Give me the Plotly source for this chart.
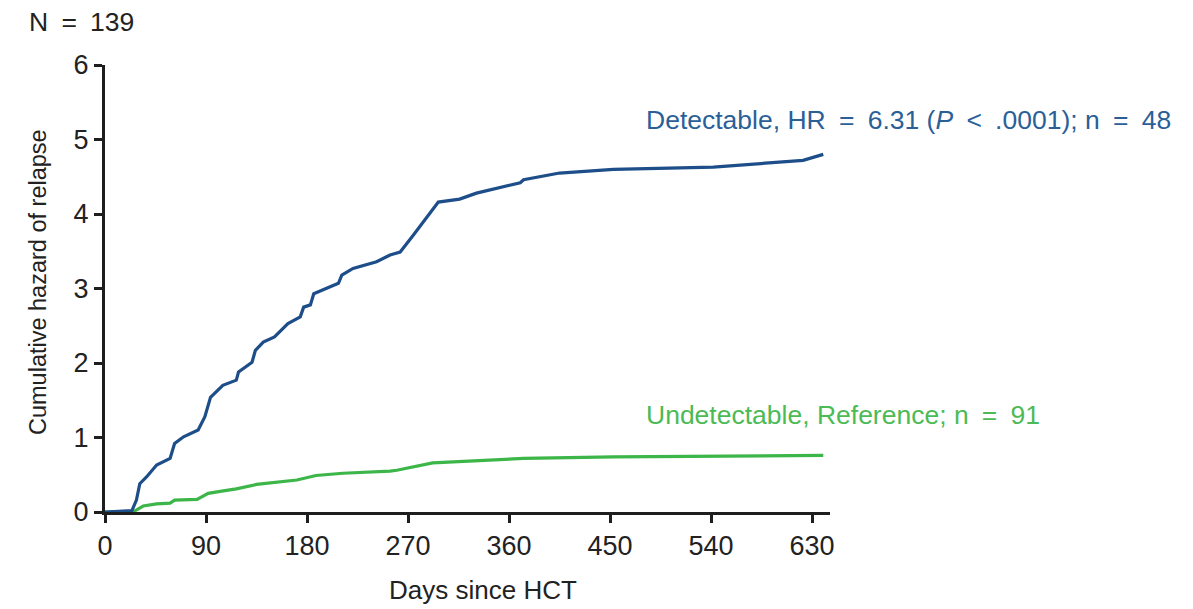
import plotly.graph_objects as go

# Detectable group (cumulative hazard)
det_days = [0, 24, 28, 31, 37, 46, 58, 62, 70, 83, 89, 94, 105, 117, 119, 131, 134, 141, 151,
            163, 174, 177, 183, 186, 208, 211, 221, 242, 254, 263, 275, 284, 297, 316, 331,
            370, 373, 405, 453, 542, 587, 622, 640]
det_haz = [0.0, 0.02, 0.16, 0.38, 0.47, 0.63, 0.72, 0.92, 1.01, 1.10, 1.28, 1.54, 1.70, 1.77, 1.88,
           2.01, 2.17, 2.28, 2.35, 2.53, 2.62, 2.75, 2.78, 2.93, 3.07, 3.18, 3.27, 3.36, 3.45,
           3.49, 3.72, 3.90, 4.16, 4.20, 4.28, 4.42, 4.46, 4.55, 4.60, 4.63, 4.68, 4.72, 4.80]

# Undetectable group (reference)
und_days = [0, 26, 34, 46, 58, 62, 82, 92, 104, 117, 135, 171, 188, 212, 254, 260, 292, 322,
            373, 453, 640]
und_haz = [0.0, 0.01, 0.08, 0.11, 0.12, 0.16, 0.17, 0.25, 0.28, 0.31, 0.37, 0.43, 0.49, 0.52,
           0.55, 0.56, 0.66, 0.68, 0.72, 0.74, 0.76]

x_ticks = [0, 90, 180, 270, 360, 450, 540, 630]
y_ticks = [0, 1, 2, 3, 4, 5, 6]

BLUE = "#1d4e89"
GREEN = "#3cb648"
BLUE_TXT = "#2a5f98"
GREEN_TXT = "#4cba55"
AXIS = "#1e1e1e"
EQ = "\u2002=\u2002"
LT = "\u2002<\u2002"

fig = go.Figure()
fig.add_trace(go.Scatter(x=und_days, y=und_haz, mode="lines",
                         line=dict(color=GREEN, width=3.2), showlegend=False))
fig.add_trace(go.Scatter(x=det_days, y=det_haz, mode="lines",
                         line=dict(color=BLUE, width=3.2), showlegend=False))

FONT = "Liberation Sans, Arial, Helvetica, sans-serif"
tickfont = dict(family=FONT, size=27, color="#222222")

fig.update_layout(
    width=1193, height=609,
    margin=dict(l=105, r=363, t=65, b=97),
    plot_bgcolor="white", paper_bgcolor="white",
    xaxis=dict(range=[0, 646], tickvals=x_ticks, ticktext=[str(v) for v in x_ticks],
               showgrid=False, zeroline=False, showline=True, linecolor=AXIS, linewidth=3,
               ticks="outside", ticklen=8, tickwidth=2.5, tickcolor=AXIS, tickfont=tickfont),
    yaxis=dict(range=[0, 6], tickvals=y_ticks, showgrid=False, zeroline=False,
               showline=True, linecolor=AXIS, linewidth=3,
               ticks="outside", ticklen=8, tickwidth=2.5, tickcolor=AXIS, tickfont=tickfont),
    annotations=[
        dict(text="Days since HCT", xref="paper", yref="paper", x=0.5214, y=-0.1745,
             xanchor="center", yanchor="middle", showarrow=False,
             font=dict(family=FONT, size=26, color="#222222")),
        dict(text="Cumulative hazard of relapse", xref="paper", yref="paper",
             x=-0.0924, y=0.5145, xanchor="center", yanchor="middle", textangle=-90,
             showarrow=False, font=dict(family=FONT, size=23.5, color="#222222")),
        dict(text="N" + EQ + "139", xref="paper", yref="paper", x=-0.1076, y=1.096,
             xanchor="left", yanchor="middle", showarrow=False,
             font=dict(family=FONT, size=26.5, color="#222222")),
        dict(text="Detectable, HR" + EQ + "6.31 (<i>P</i>" + LT + ".0001); n" + EQ + "48",
             xref="paper", yref="paper",
             x=0.743, y=0.877, xanchor="left", yanchor="middle", showarrow=False,
             font=dict(family=FONT, size=26.5, color=BLUE_TXT)),
        dict(text="Undetectable, Reference; n" + EQ + "91", xref="paper", yref="paper",
             x=0.743, y=0.216, xanchor="left", yanchor="middle", showarrow=False,
             font=dict(family=FONT, size=26.5, color=GREEN_TXT)),
    ],
)

fig.write_html("out.html")
